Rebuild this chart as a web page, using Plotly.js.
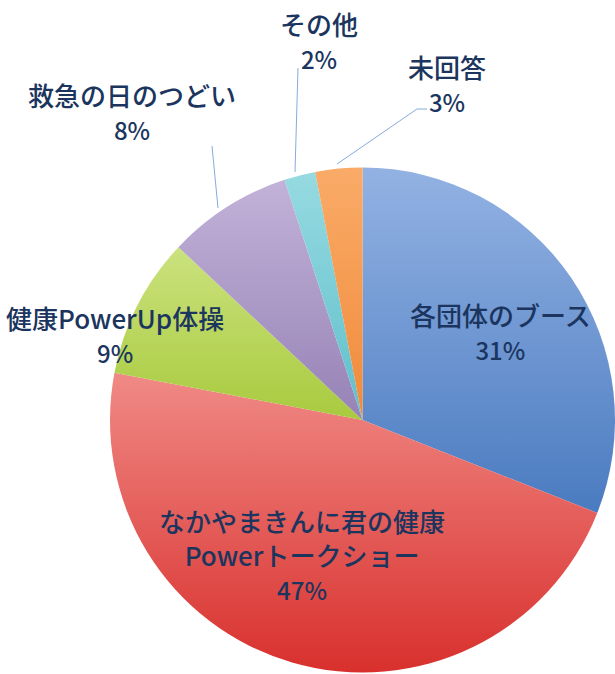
<!DOCTYPE html>
<html>
<head>
<meta charset="utf-8">
<script src="https://cdn.plot.ly/plotly-3.0.1.min.js"></script>
<style>
html,body{margin:0;padding:0;background:#ffffff;}
#chart{width:615px;height:674px;}
</style>
</head>
<body>
<div id="chart"></div>
<script>
// ---- data ----
const categories = ["各団体のブース", "なかやまきんに君の健康<br>Powerトークショー", "健康PowerUp体操", "救急の日のつどい", "その他", "未回答"];
const percents = [31, 47, 9, 8, 2, 3];

// ---- styles ----
const sliceColors = ["#6E94D1", "#E6605C", "#B9D65A", "#AA96C6", "#7DCCD6", "#F5994E"];
const gradTop = ["#93B2E3", "#F08A86", "#CBE27E", "#C2B2D8", "#97DAE1", "#FAAB68"];
const gradBot = ["#4A7BC0", "#D8302D", "#A8CA3E", "#9682B6", "#5EBFCB", "#F08A3A"];
const W = 615, H = 674;
const px = x => x / W;
const py = y => 1 - y / H;

// label block centres (pixels)
const labelPos = [[500, 331], [302, 554], [115, 334], [132, 112], [319, 40], [447, 84]];
const textColor = "#1B355E";
const fontFam = "'Noto Sans CJK JP', 'Noto Sans', sans-serif";

const annotations = categories.map((c, i) => ({
  xref: "paper", yref: "paper",
  x: px(labelPos[i][0]), y: py(labelPos[i][1]),
  xanchor: "center", yanchor: "middle",
  text: c + "<br><span style='font-size:24px'>" + percents[i] + "%</span>",
  showarrow: false,
  align: "center",
  font: {family: fontFam, size: 26, color: textColor, weight: 500}
}));

const lineCol = "#86ACDD";
const shapes = [
  {type: "line", xref: "paper", yref: "paper", x0: px(212), y0: py(146), x1: px(218), y1: py(208), line: {color: lineCol, width: 1}},
  {type: "line", xref: "paper", yref: "paper", x0: px(298), y0: py(68), x1: px(295), y1: py(172), line: {color: lineCol, width: 1}},
  {type: "path", xref: "paper", yref: "paper",
   path: "M " + px(427) + "," + py(109) + " L " + px(417) + "," + py(109) + " L " + px(337) + "," + py(164),
   line: {color: lineCol, width: 1}}
];

const trace = {
  type: "pie",
  labels: categories,
  values: percents,
  sort: false,
  direction: "clockwise",
  rotation: 0,
  textinfo: "none",
  hoverinfo: "label+percent",
  marker: {colors: sliceColors, line: {color: "#ffffff", width: 0}},
  domain: {x: [px(110), 1], y: [py(673), py(167)]},
  showlegend: false
};

const layout = {
  width: W, height: H,
  margin: {l: 0, r: 0, t: 0, b: 0},
  paper_bgcolor: "#ffffff",
  plot_bgcolor: "#ffffff",
  showlegend: false,
  annotations: annotations,
  shapes: shapes
};

Plotly.newPlot("chart", [trace], layout, {staticPlot: true}).then(() => {
  try {
    const svg = document.querySelector("#chart .main-svg");
    const NS = "http://www.w3.org/2000/svg";
    let defs = svg.querySelector("defs");
    if (!defs) { defs = document.createElementNS(NS, "defs"); svg.insertBefore(defs, svg.firstChild); }
    const paths = document.querySelectorAll("#chart g.slice path.surface");
    paths.forEach((p, i) => {
      const g = document.createElementNS(NS, "linearGradient");
      g.setAttribute("id", "sg" + i);
      g.setAttribute("x1", "0"); g.setAttribute("y1", "0");
      g.setAttribute("x2", "0"); g.setAttribute("y2", "1");
      const s1 = document.createElementNS(NS, "stop");
      s1.setAttribute("offset", "0"); s1.setAttribute("stop-color", gradTop[i]);
      const s2 = document.createElementNS(NS, "stop");
      s2.setAttribute("offset", "1"); s2.setAttribute("stop-color", gradBot[i]);
      g.appendChild(s1); g.appendChild(s2);
      defs.appendChild(g);
      p.style.fill = "url(#sg" + i + ")";
    });
  } catch (e) {}
});
</script>
</body>
</html>
